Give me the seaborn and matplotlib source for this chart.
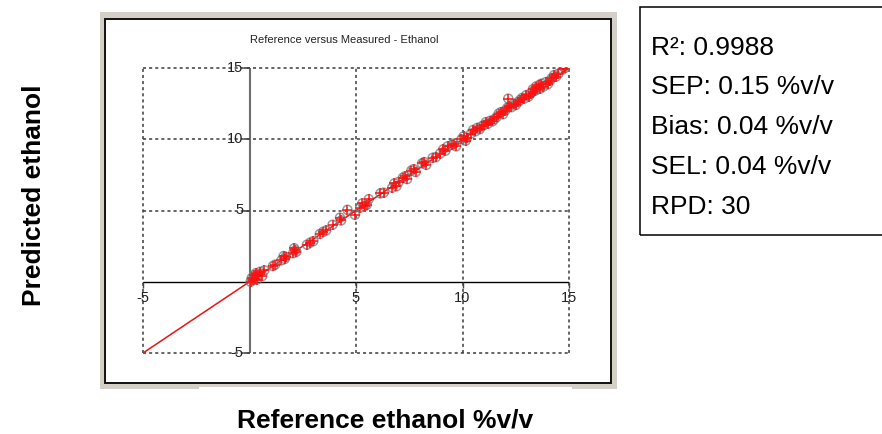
import numpy as np
import pandas as pd
import matplotlib
matplotlib.use("Agg")
import matplotlib.pyplot as plt
from matplotlib.patches import Rectangle
import seaborn as sns

# Reference vs predicted ethanol content (%v/v)
reference = [0.05, 0.1, 0.15, 0.2, 0.25, 0.3, 0.35, 0.4, 0.5, 0.6, 0.7,
             1.1, 1.2,
             1.5, 1.6, 1.65, 1.7,
             2.05, 2.1, 2.15, 2.2,
             2.7, 2.85, 3.0,
             3.3, 3.45, 3.6,
             3.9, 4.25, 4.3, 4.6, 4.95,
             5.2, 5.3, 5.4, 5.5, 5.6,
             6.15, 6.3,
             6.7, 6.8, 6.9, 7.0,
             7.2, 7.3, 7.4,
             7.6, 7.7, 7.8,
             8.1, 8.2, 8.3,
             8.6, 8.75,
             8.95, 9.1, 9.2, 9.3,
             9.5, 9.6, 9.7,
             9.95, 10.05, 10.15, 10.2,
             10.4, 10.5, 10.6, 10.7, 10.8, 10.9,
             11.0, 11.1, 11.2, 11.3, 11.4, 11.5,
             11.6, 11.7, 11.8, 11.9, 12.0,
             12.15,
             12.1, 12.2, 12.3, 12.4, 12.5, 12.6,
             12.7, 12.8, 12.9, 13.0, 13.1, 13.2, 13.3,
             13.3, 13.4, 13.45, 13.5, 13.6, 13.65, 13.7, 13.8, 13.9, 14.0,
             14.1, 14.2, 14.3, 14.4, 14.5,
             14.7, 14.8]
predicted = [0.0, 0.25, 0.1, 0.45, 0.2, 0.6, 0.15, 0.5, 0.7, 0.4, 0.8,
             1.1, 1.2,
             1.5, 1.8, 1.6, 1.75,
             2.0, 2.35, 2.2, 2.1,
             2.6, 2.75, 2.85,
             3.35, 3.5, 3.6,
             4.0, 4.5, 4.3, 5.05, 4.7,
             5.2, 5.5, 5.3, 5.4, 5.8,
             6.2, 6.25,
             6.6, 6.9, 6.7, 7.0,
             7.3, 7.4, 7.2,
             7.8, 7.9, 7.7,
             8.3, 8.4, 8.2,
             8.7, 8.75,
             9.0, 9.3, 9.2, 9.5,
             9.6, 9.7, 9.5,
             10.0, 10.2, 9.9, 10.1,
             10.4, 10.65, 10.55, 10.8, 10.7, 10.9,
             11.0, 11.2, 11.1, 11.3, 11.25, 11.4,
             11.55, 11.8, 11.9, 11.75, 12.0,
             12.85,
             12.2, 12.3, 12.25, 12.5, 12.4, 12.6,
             12.75, 12.9, 12.85, 13.1, 13.0, 13.2, 13.35,
             13.5, 13.4, 13.7, 13.5, 13.8, 13.55, 13.9, 13.7, 14.0, 13.85,
             14.1, 14.3, 14.5, 14.4, 14.6,
             14.9, 15.0]

# Calibration line and axis layout
fit_slope = 1.0
fit_intercept = 0.0
axis_limits = [-5, 15]
tick_values = [-5, 5, 10, 15]

stats_lines = ["R²: 0.9988", "SEP: 0.15 %v/v", "Bias: 0.04 %v/v",
               "SEL: 0.04 %v/v", "RPD: 30"]

sns.set_style("white")
plt.rcParams["font.family"] = ["Liberation Sans", "DejaVu Sans"]

W, H = 882, 434
fig = plt.figure(figsize=(W / 100, H / 100), dpi=100)
fig.patch.set_facecolor("white")


def fx(px):
    return px / W


def fy(py):
    return 1 - py / H


# Window-style frame around the chart panel
fig.add_artist(Rectangle((fx(100), fy(389)), fx(517), 377 / H, transform=fig.transFigure,
                         facecolor="#d4d0c8", edgecolor="none", zorder=-10))
fig.add_artist(Rectangle((fx(105), fy(383)), fx(506), 364 / H, transform=fig.transFigure,
                         facecolor="white", edgecolor="#111111", linewidth=1.4, zorder=-9))
fig.add_artist(Rectangle((fx(199), fy(390)), fx(373), 3.5 / H, transform=fig.transFigure,
                         facecolor="white", edgecolor="none", zorder=-9))

ax = fig.add_axes([fx(143), fy(353), fx(569 - 143), (353 - 68) / H])
ax.patch.set_alpha(0)
ax.set_xlim(axis_limits)
ax.set_ylim(axis_limits)
for s in ax.spines.values():
    s.set_visible(False)
ax.set_xticks([])
ax.set_yticks([])

# Dotted grid, including the outer frame lines
grid_kw = dict(color="#3c3c3c", linewidth=1.1, linestyle=(0, (2.0, 2.0)), zorder=1, clip_on=False)
for t in tick_values:
    ax.axvline(t, **grid_kw)
    ax.axhline(t, **grid_kw)

# Zero axes through the middle of the plot
ax.axhline(0, color="black", linewidth=1.0, zorder=2)
ax.axvline(0, color="#6e6e6e", linewidth=1.5, zorder=2)
ax.plot([0] * len(tick_values), tick_values, linestyle="none", marker=0,
        markersize=4.5, color="#444444", markeredgewidth=1.2, zorder=2, clip_on=False)
ax.plot(tick_values, [0] * len(tick_values), linestyle="none", marker=3,
        markersize=4.5, color="#444444", markeredgewidth=1.0, zorder=2, clip_on=False)

for t in tick_values:
    ax.annotate(str(t), xy=(t, 0), xytext=(0, -16), textcoords="offset pixels",
                ha="center", va="center", fontsize=10.5, color="#222222", zorder=3)
    ax.annotate(str(t), xy=(0, t), xytext=(-6, 0), textcoords="offset pixels",
                ha="right", va="center", fontsize=10.5, color="#222222", zorder=3)

# Regression line across the full axis range
line_df = pd.DataFrame({"x": axis_limits,
                        "y": [fit_slope * v + fit_intercept for v in axis_limits]})
sns.lineplot(data=line_df, x="x", y="y", color="#ee1111", linewidth=1.1, ax=ax, zorder=4)

df = pd.DataFrame({"reference": reference, "predicted": predicted})
sns.scatterplot(data=df, x="reference", y="predicted", marker="o", s=42,
                facecolors="none", edgecolor="#7a7a7a", linewidth=1.1, alpha=0.75,
                ax=ax, zorder=5)
sns.scatterplot(data=df, x="reference", y="predicted", marker="+", s=60,
                color="#ff1010", linewidth=1.1, ax=ax, zorder=6)
ax.set_xlabel("")
ax.set_ylabel("")

fig.text(fx(344.5), fy(40), "Reference versus Measured - Ethanol", ha="center", va="center",
         fontsize=8, color="#222222")

# Outer axis titles
fig.text(fx(34), fy(195), "Predicted ethanol", rotation=90, ha="center", va="center",
         fontsize=19, fontweight="bold", color="black")
fig.text(fx(385), fy(420), "Reference ethanol %v/v", ha="center", va="center",
         fontsize=19, fontweight="bold", color="black")

# Statistics box
fig.add_artist(Rectangle((fx(640), fy(235)), 0.4, 228 / H, transform=fig.transFigure,
                         facecolor="none", edgecolor="black", linewidth=1.1))
baselines = [55, 94, 134, 174, 214]
for txt, b in zip(stats_lines, baselines):
    fig.text(fx(651), fy(b), txt, ha="left", va="baseline", fontsize=19, color="black")

fig.savefig("out.png", dpi=100)
